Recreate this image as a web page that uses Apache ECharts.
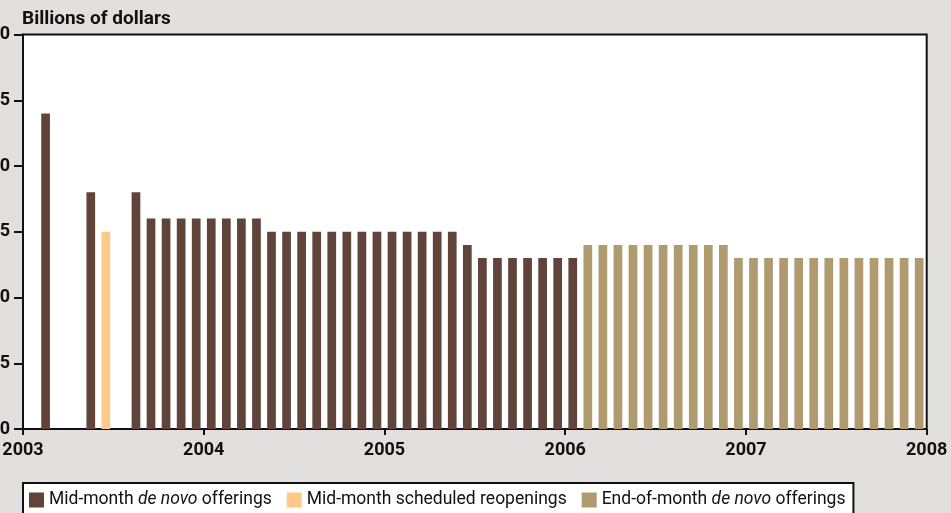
<!DOCTYPE html>
<html>
<head>
<meta charset="utf-8">
<script src="https://cdn.jsdelivr.net/npm/echarts@6/dist/echarts.min.js"></script>
<style>
html,body{margin:0;padding:0;background:#e1e0de;}
#c{width:951px;height:513px;}
</style>
</head>
<body>
<div id="c"></div>
<script>
// Data (month = year-month of each offering)
const midDeNovoMonths = ['2003-02','2003-05','2003-08','2003-09','2003-10','2003-11','2003-12',
  '2004-01','2004-02','2004-03','2004-04','2004-05','2004-06','2004-07','2004-08','2004-09',
  '2004-10','2004-11','2004-12','2005-01','2005-02','2005-03','2005-04','2005-05','2005-06',
  '2005-07','2005-08','2005-09','2005-10','2005-11','2005-12','2006-01'];
const midDeNovoValues = [24,18,18,16,16,16,16,16,16,16,16,15,15,15,15,15,15,15,15,15,15,15,15,15,14,13,13,13,13,13,13,13];

const reopeningMonths = ['2003-06'];
const reopeningValues = [15];

const endDeNovoMonths = ['2006-02','2006-03','2006-04','2006-05','2006-06','2006-07','2006-08',
  '2006-09','2006-10','2006-11','2006-12','2007-01','2007-02','2007-03','2007-04','2007-05',
  '2007-06','2007-07','2007-08','2007-09','2007-10','2007-11','2007-12'];
const endDeNovoValues = [14,14,14,14,14,14,14,14,14,14,13,13,13,13,13,13,13,13,13,13,13,13,13];

const startYear = 2003;
const yearTicks = [2003,2004,2005,2006,2007,2008];
const yTicks = [0,5,10,15,20,25,30];

function monthPos(m){
  const [y,mo] = m.split('-').map(Number);
  return (y - startYear) * 12 + (mo - 1) + 0.5;
}
function pairs(months, vals){ return months.map((m,i)=>[monthPos(m), vals[i]]); }

const FONT = 'Roboto, "Liberation Sans", Arial, sans-serif';
const chart = echarts.init(document.getElementById('c'), null, {renderer:'canvas'});
chart.setOption({
  backgroundColor:'#e1e0de',
  animation:false,
  title:{text:'Billions of dollars', left:17, top:5,
    textStyle:{fontFamily:FONT, fontSize:19, fontWeight:'bold', color:'#111'}},
  grid:{left:23, top:34.5, right:24.3, bottom:84, show:true, backgroundColor:'#fff',
    borderColor:'#111', borderWidth:2, containLabel:false, outerBoundsMode:'none'},
  legend:{
    left:23, top:483, orient:'horizontal',
    data:['Mid-month de novo offerings','Mid-month scheduled reopenings','End-of-month de novo offerings'],
    icon:'rect', itemWidth:15, itemHeight:15, itemGap:15,
    padding:[8,8,8,6],
    backgroundColor:'#fff', borderColor:'#111', borderWidth:2, borderRadius:0,
    formatter: n => n.replace('de novo','{it|de novo}'),
    textStyle:{fontFamily:FONT, fontSize:17.5, color:'#111',
      rich:{it:{fontFamily:FONT, fontSize:17.5, fontStyle:'italic', color:'#111'}}}
  },
  xAxis:{
    type:'value', min:0, max:(yearTicks[yearTicks.length-1]-startYear)*12, interval:12,
    splitLine:{show:false},
    axisLine:{lineStyle:{color:'#111', width:2}},
    axisTick:{show:true, inside:false, length:6, lineStyle:{color:'#111', width:2}},
    axisLabel:{fontFamily:FONT, fontSize:18, fontWeight:'bold', color:'#111', margin:12,
      formatter: v => String(startYear + v/12)}
  },
  yAxis:{
    type:'value', min:yTicks[0], max:yTicks[yTicks.length-1], interval:5,
    splitLine:{show:false},
    axisLine:{show:true, lineStyle:{color:'#111', width:2}},
    axisTick:{show:true, inside:false, length:9, lineStyle:{color:'#111', width:2}},
    axisLabel:{fontFamily:FONT, fontSize:18, fontWeight:'bold', color:'#111', margin:13}
  },
  series:[
    {name:'Mid-month de novo offerings', type:'bar', data:pairs(midDeNovoMonths, midDeNovoValues),
      barWidth:8.7, barGap:'-100%', itemStyle:{color:'#604339'}},
    {name:'Mid-month scheduled reopenings', type:'bar', data:pairs(reopeningMonths, reopeningValues),
      barWidth:8.7, barGap:'-100%', itemStyle:{color:'#ffca87'}},
    {name:'End-of-month de novo offerings', type:'bar', data:pairs(endDeNovoMonths, endDeNovoValues),
      barWidth:8.7, barGap:'-100%', itemStyle:{color:'#b09a6f'}}
  ]
});
</script>
</body>
</html>
